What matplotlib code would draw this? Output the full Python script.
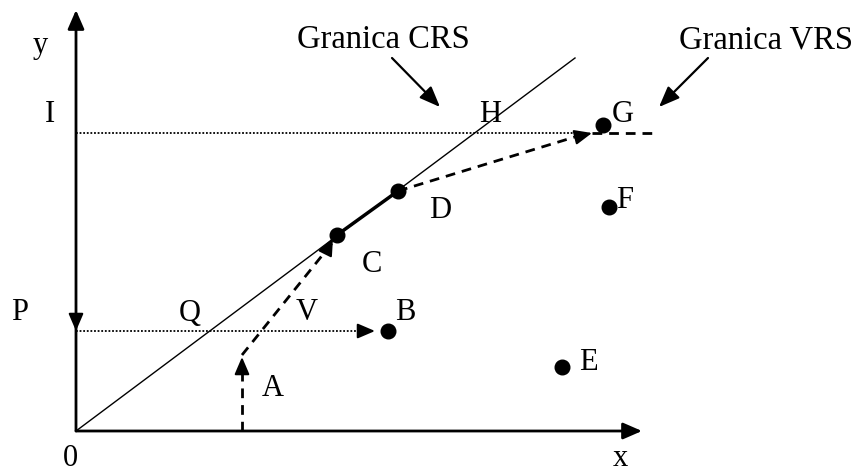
import matplotlib.pyplot as plt

# DEA diagram: CRS vs VRS frontier (units relative to origin 0)
point_names = ["B", "C", "D", "E", "F", "G"]
point_x = [312, 261, 322, 486, 533, 527]
point_y = [100, 196, 240, 64, 224, 306]

crs_end = (499, 373)
x_axis_end = 566
y_axis_end = 421
level_p = 100
level_i = 298

# path of unit A: up from x-axis, then to C, then along frontier to G
a_x = 166
a_turn_y = 76
vrs_tail_end = 577

labels = ["y", "I", "P", "0", "x", "Q", "V", "B", "A", "C", "D", "E", "F", "G", "H"]
label_x = [-36, -26, -56, -6, 544, 114, 231, 329, 197, 296, 364, 512, 549, 547, 414]
label_y = [386, 316, 118, -28, -27, 118, 118, 118, 43, 166, 221, 69, 231, 316, 316]

callouts = ["Granica CRS", "Granica VRS"]
callout_x = [307, 690]
callout_y = [391, 391]
callout_from = [(316, 373), (632, 373)]
callout_to = [(364, 324), (583, 324)]

plt.rcParams['font.family'] = ['Liberation Serif', 'DejaVu Serif']

fig = plt.figure(figsize=(8.6, 4.76), dpi=100)
ax = fig.add_axes([0, 0, 1, 1])
ax.set_xlim(-76, 784)
ax.set_ylim(-45, 431)
ax.axis("off")

head_big = dict(arrowstyle="-|>,head_length=1.15,head_width=0.5", mutation_scale=10,
                color="black", shrinkA=0, shrinkB=0)
head_small = dict(arrowstyle="-|>,head_length=1.05,head_width=0.45", mutation_scale=10,
                  color="black", shrinkA=0, shrinkB=0, lw=1.5)

# axes
ax.annotate("", xy=(x_axis_end, 0), xytext=(0, 0), arrowprops=dict(head_big, lw=2))
ax.annotate("", xy=(0, y_axis_end), xytext=(0, 0), arrowprops=dict(head_big, lw=2))
ax.annotate("", xy=(0, level_p), xytext=(0, level_p + 15), arrowprops=head_small)

# CRS frontier
ax.plot([0, crs_end[0]], [0, crs_end[1]], color="black", lw=1)

# dotted reference levels
ax.plot([0, 286], [level_p, level_p], color="black", lw=1.3, ls=(0, (1, 1)))
ax.annotate("", xy=(299, level_p), xytext=(284, level_p), arrowprops=head_small)
ax.plot([0, 500], [level_i, level_i], color="black", lw=1.3, ls=(0, (1, 1)))

dash = dict(color="black", lw=2, dashes=(3.5, 2.5))

# A: vertical path
ax.plot([a_x, a_x], [0, a_turn_y - 16], **dash)
ax.annotate("", xy=(a_x, a_turn_y - 2), xytext=(a_x, a_turn_y - 16), arrowprops=head_small)

# A -> C
cx, cy = point_x[1], point_y[1]
ax.plot([a_x, cx - 4], [a_turn_y, cy - 7], **dash)
ax.annotate("", xy=(cx - 4, cy - 3), xytext=(cx - 10, cy - 15), arrowprops=head_small)

# C -> D solid VRS segment
dx, dy = point_x[2], point_y[2]
ax.plot([cx, dx], [cy, dy], color="black", lw=2.5)

# D -> G dashed with arrow
gx = 516
ax.plot([dx, gx - 14], [dy, level_i - 3], **dash)
ax.annotate("", xy=(gx, level_i), xytext=(gx - 16, level_i - 4), arrowprops=head_small)
ax.plot([gx, vrs_tail_end], [level_i, level_i], **dash)

# DMU points
ax.plot(point_x, point_y, "o", color="black", ms=10.5, ls="none")

for t, x, y in zip(labels, label_x, label_y):
    ax.text(x, y, t, fontsize=22, ha="center", va="center")

for t, x, y, a, b in zip(callouts, callout_x, callout_y, callout_from, callout_to):
    ax.text(x, y, t, fontsize=23.5, ha="center", va="center")
    ax.annotate("", xy=b, xytext=a,
                arrowprops=dict(head_small, lw=1.6,
                                arrowstyle="-|>,head_length=1.25,head_width=0.5"))

fig.savefig("out.png", dpi=100)
